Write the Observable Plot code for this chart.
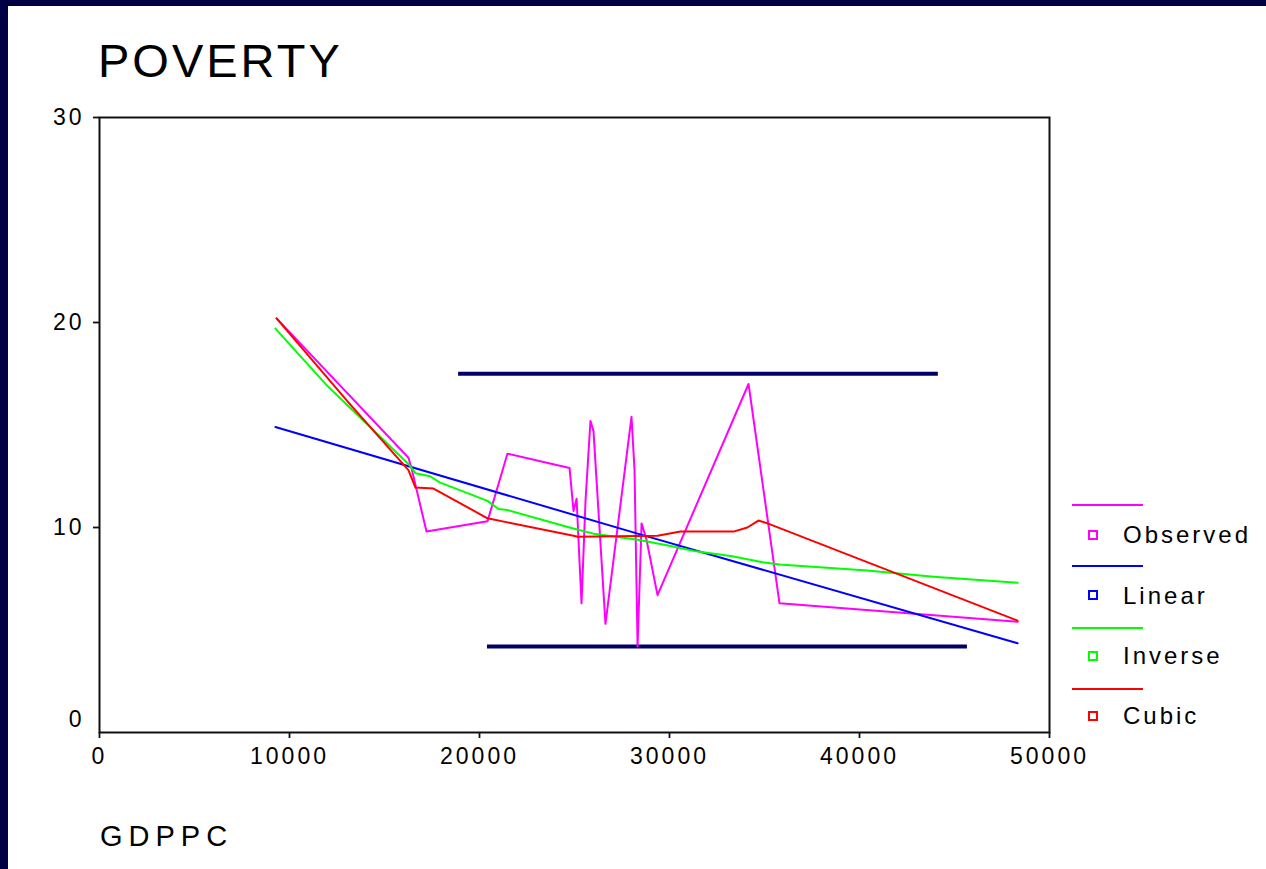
<!DOCTYPE html>
<html>
<head>
<meta charset="utf-8">
<script src="https://cdn.jsdelivr.net/npm/d3@7"></script>
<script src="https://cdn.jsdelivr.net/npm/@observablehq/plot@0.6"></script>
<style>
  html, body { margin: 0; padding: 0; }
  body { width: 1266px; height: 869px; background: #000044; position: relative; overflow: hidden; }
  #page { position: absolute; left: 8px; top: 6px; width: 1258px; height: 863px; background: #ffffff; font-family: "Liberation Sans", Arial, sans-serif; color: #000; }
  #title { position: absolute; left: 90px; top: 31px; font-size: 47px; line-height: 47px; letter-spacing: 3px; white-space: nowrap; }
  #xlabel { position: absolute; left: 92px; top: 816px; font-size: 29px; line-height: 29px; letter-spacing: 6px; white-space: nowrap; }
  #chart { position: absolute; left: 0; top: 90px; }
  #chart svg text { letter-spacing: 3px; }
  .lg-line { position: absolute; height: 2px; }
  .lg-box { position: absolute; width: 10px; height: 10px; box-sizing: border-box; border: 2px solid; background: #fff; }
  .lg-text { position: absolute; font-size: 24px; line-height: 24px; letter-spacing: 3px; white-space: nowrap; }
</style>
</head>
<body>
<div id="page">
  <div id="title">POVERTY</div>
  <div id="chart"></div>
  <div id="legend"></div>
  <div id="xlabel">GDPPC</div>
</div>
<script>
// ---- data ----
const seriesNames = ["Observed", "Linear", "Inverse", "Cubic"];
const seriesColors = ["#ff00ff", "#0000ff", "#00ff00", "#ff0000"];

const observedX = [9320, 16260, 16420, 17210, 20420, 21470, 24740, 24950, 25110, 25210, 25370, 25580, 25840, 26000, 26630, 28000, 28160, 28320, 28530, 28790, 29370, 34160, 35790, 48320];
const observedY = [20.2, 13.4, 12.9, 9.8, 10.3, 13.6, 12.9, 10.8, 11.4, 9.4, 6.3, 11.3, 15.2, 14.7, 5.3, 15.4, 12.8, 4.2, 10.2, 9.4, 6.7, 17.0, 6.3, 5.4];

const linearX = [9260, 28320, 48320];
const linearY = [14.9, 9.7, 4.35];

const inverseX = [9260, 12000, 16260, 16630, 17400, 17900, 20420, 21000, 21470, 24740, 26000, 28320, 29800, 31300, 33300, 34900, 35790, 40400, 43900, 48320];
const inverseY = [19.7, 16.9, 13.1, 12.65, 12.5, 12.2, 11.3, 10.9, 10.85, 10.0, 9.7, 9.4, 9.15, 8.85, 8.6, 8.3, 8.2, 7.9, 7.6, 7.3];

const cubicX = [9320, 13100, 16260, 16630, 17580, 20420, 21470, 24950, 25160, 29370, 30580, 33370, 34100, 34680, 35160, 48320];
const cubicY = [20.2, 16.1, 12.8, 11.95, 11.9, 10.45, 10.25, 9.6, 9.55, 9.6, 9.8, 9.8, 10.0, 10.34, 10.2, 5.46];

// two horizontal marker bars drawn on the chart
const barY = [17.5, 4.2];
const barX1 = [18900, 20420];
const barX2 = [44150, 45680];

const xTicks = [0, 10000, 20000, 30000, 40000, 50000];
const yTicks = [0, 10, 20, 30];

// ---- build tables ----
const zip = (xs, ys, name) => xs.map((x, i) => ({x, y: ys[i], name}));
const observed = zip(observedX, observedY, "Observed");
const linear = zip(linearX, linearY, "Linear");
const inverse = zip(inverseX, inverseY, "Inverse");
const cubic = zip(cubicX, cubicY, "Cubic");
const bars = barY.map((y, i) => ({y, x1: barX1[i], x2: barX2[i]}));

const chart = Plot.plot({
  width: 1258,
  height: 686,
  marginLeft: 91,
  marginRight: 217,
  marginTop: 21,
  marginBottom: 50,
  x: {domain: [0, 50000]},
  y: {domain: [0, 30]},
  color: {domain: seriesNames, range: seriesColors},
  style: {fontFamily: "'Liberation Sans', Arial, sans-serif", fontSize: "23px", color: "#000", background: "transparent", overflow: "visible"},
  marks: [
    Plot.axisX({ticks: xTicks, tickFormat: d => String(d), tickSize: 6, tickPadding: 9, label: null, stroke: "#111", strokeWidth: 1.8}),
    Plot.axisY({ticks: yTicks.filter(d => d > 0), tickSize: 6, tickPadding: 9, label: null, stroke: "#111", strokeWidth: 1.8}),
    Plot.axisY({ticks: yTicks.filter(d => d === 0), tickSize: 0, tickPadding: 15, dy: -13, label: null}),
    Plot.ruleY(bars, {y: "y", x1: "x1", x2: "x2", stroke: "#000066", strokeWidth: 4}),
    Plot.line(observed, {x: "x", y: "y", stroke: "name", strokeWidth: 2}),
    Plot.line(linear, {x: "x", y: "y", stroke: "name", strokeWidth: 2}),
    Plot.line(inverse, {x: "x", y: "y", stroke: "name", strokeWidth: 2}),
    Plot.line(cubic, {x: "x", y: "y", stroke: "name", strokeWidth: 2}),
    Plot.frame({stroke: "#111", strokeWidth: 2})
  ]
});
document.getElementById("chart").appendChild(chart);

// ---- legend ----
const legend = document.getElementById("legend");
seriesNames.forEach((name, i) => {
  const color = seriesColors[i];
  const lineTop = 498 + i * 61.3;
  const boxTop = 524 + i * 60.3;
  const line = document.createElement("div");
  line.className = "lg-line";
  line.style.left = "1064px";
  line.style.width = "71px";
  line.style.top = lineTop + "px";
  line.style.background = color;
  legend.appendChild(line);
  const box = document.createElement("div");
  box.className = "lg-box";
  box.style.left = "1080px";
  box.style.top = boxTop + "px";
  box.style.borderColor = color;
  legend.appendChild(box);
  const text = document.createElement("div");
  text.className = "lg-text";
  text.style.left = "1115px";
  text.style.top = (boxTop - 6.7) + "px";
  text.textContent = name;
  legend.appendChild(text);
});
</script>
</body>
</html>
